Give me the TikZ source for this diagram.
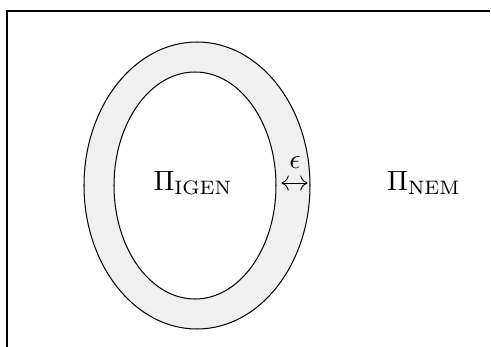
\documentclass[tikz,border=0pt]{standalone}
\usetikzlibrary{arrows.meta}
\begin{document}
\begin{tikzpicture}[x=0.4886pt,y=-0.4886pt,
  ring/.style={draw=black,line width=0.5pt,fill=black!6},
  frameline/.style={draw=black,line width=0.6pt},
  lbl/.style={inner sep=0pt,scale=1.36,transform shape}]
\useasboundingbox (0,0) rectangle (491,347);
\draw[frameline] (7,347) -- (7,11) -- (490,11);
\path[ring,even odd rule] (197,185.5) ellipse [x radius=113, y radius=143.5]
  (195,185.5) ellipse [x radius=81, y radius=113.5];
\node[lbl] (igen) at (193,183) {$\Pi_{\mathrm{IGEN}}$};
\node[lbl] (nem) at (424,183) {$\Pi_{\mathrm{NEM}}$};
\coordinate (a) at (281.5,183);
\coordinate (b) at (307.5,183);
\draw[{To[scale=1.36]}-{To[scale=1.36]},line width=0.45pt] (a) -- (b);
\node[lbl] (eps) at (295,163) {$\epsilon$};
\end{tikzpicture}
\end{document}
